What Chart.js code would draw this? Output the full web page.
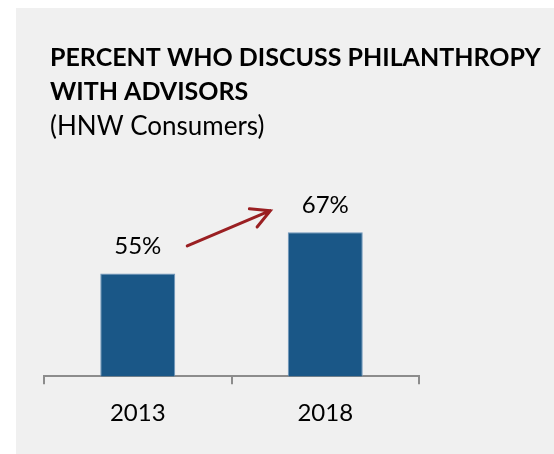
<!DOCTYPE html>
<html>
<head>
<meta charset="utf-8">
<script src="https://cdn.jsdelivr.net/npm/chart.js@4/dist/chart.umd.min.js"></script>
<style>
html,body{margin:0;padding:0;background:#fff;}
#wrap{position:relative;width:554px;height:454px;}
</style>
</head>
<body>
<div id="wrap"><canvas id="c" width="554" height="454"></canvas></div>
<script>
const titleLines = ["PERCENT WHO DISCUSS PHILANTHROPY", "WITH ADVISORS"];
const subtitle = "(HNW Consumers)";
const categories = ["2013", "2018"];
const values = [55, 67];
const valueLabels = ["55%", "67%"];

const FONT = "Lato, 'Open Sans', sans-serif";

const bgPlugin = {
  id: 'bg',
  beforeDraw(chart) {
    const ctx = chart.ctx;
    ctx.save();
    ctx.fillStyle = '#ffffff';
    ctx.fillRect(0, 0, chart.width, chart.height);
    ctx.fillStyle = '#f0f0f0';
    ctx.fillRect(16, 8, chart.width - 16, chart.height - 8);
    ctx.fillStyle = '#000000';
    ctx.textBaseline = 'alphabetic';
    ctx.textAlign = 'left';
    ctx.font = "bold 25px " + FONT;
    ctx.fillText(titleLines[0], 50, 66);
    ctx.fillText(titleLines[1], 50, 100);
    ctx.font = "26px " + FONT;
    ctx.fillText(subtitle, 50, 135);
    ctx.restore();
  }
};

const labelPlugin = {
  id: 'vlabels',
  afterDatasetsDraw(chart) {
    const ctx = chart.ctx;
    const meta = chart.getDatasetMeta(0);
    ctx.save();
    ctx.fillStyle = '#000000';
    ctx.font = "24px " + FONT;
    ctx.textAlign = 'center';
    ctx.textBaseline = 'alphabetic';
    meta.data.forEach((bar, i) => {
      ctx.fillText(valueLabels[i], bar.x, bar.y - 19);
    });
    // arrow
    const xs = chart.scales.x, ys = chart.scales.y;
    const x0 = xs.getPixelForValue(0.264), y0 = ys.getPixelForValue(63);
    const x1 = xs.getPixelForValue(0.707), y1 = ys.getPixelForValue(73.3);
    ctx.strokeStyle = '#9a1f22';
    ctx.lineWidth = 3;
    ctx.lineCap = 'round';
    ctx.beginPath();
    ctx.moveTo(x0, y0);
    ctx.lineTo(x1, y1);
    const ang = Math.atan2(y1 - y0, x1 - x0);
    const hl = 21, ha = 28 * Math.PI / 180;
    ctx.moveTo(x1 - hl * Math.cos(ang - ha), y1 - hl * Math.sin(ang - ha));
    ctx.lineTo(x1, y1);
    ctx.lineTo(x1 - hl * Math.cos(ang + ha), y1 - hl * Math.sin(ang + ha));
    ctx.stroke();
    ctx.restore();
  }
};

new Chart(document.getElementById('c'), {
  type: 'bar',
  data: {
    labels: categories,
    datasets: [{
      data: values,
      backgroundColor: '#1a5787',
      borderColor: '#6f96bb',
      borderWidth: 1,
      barPercentage: 0.4,
      categoryPercentage: 1.0
    }]
  },
  options: {
    responsive: false,
    animation: false,
    devicePixelRatio: 1,
    layout: { padding: { left: 44, right: 135, top: 150, bottom: 11 } },
    plugins: { legend: { display: false }, tooltip: { enabled: false }, title: { display: false } },
    scales: {
      x: {
        grid: { display: true, drawOnChartArea: false, drawTicks: true, tickLength: 8, color: '#8c8c8c', lineWidth: 2, offset: true },
        border: { display: true, color: '#8c8c8c', width: 2 },
        ticks: { color: '#000000', font: { family: FONT, size: 24 }, padding: 15 }
      },
      y: { display: false, min: 25, max: 91 }
    }
  },
  plugins: [bgPlugin, labelPlugin]
});
</script>
</body>
</html>
